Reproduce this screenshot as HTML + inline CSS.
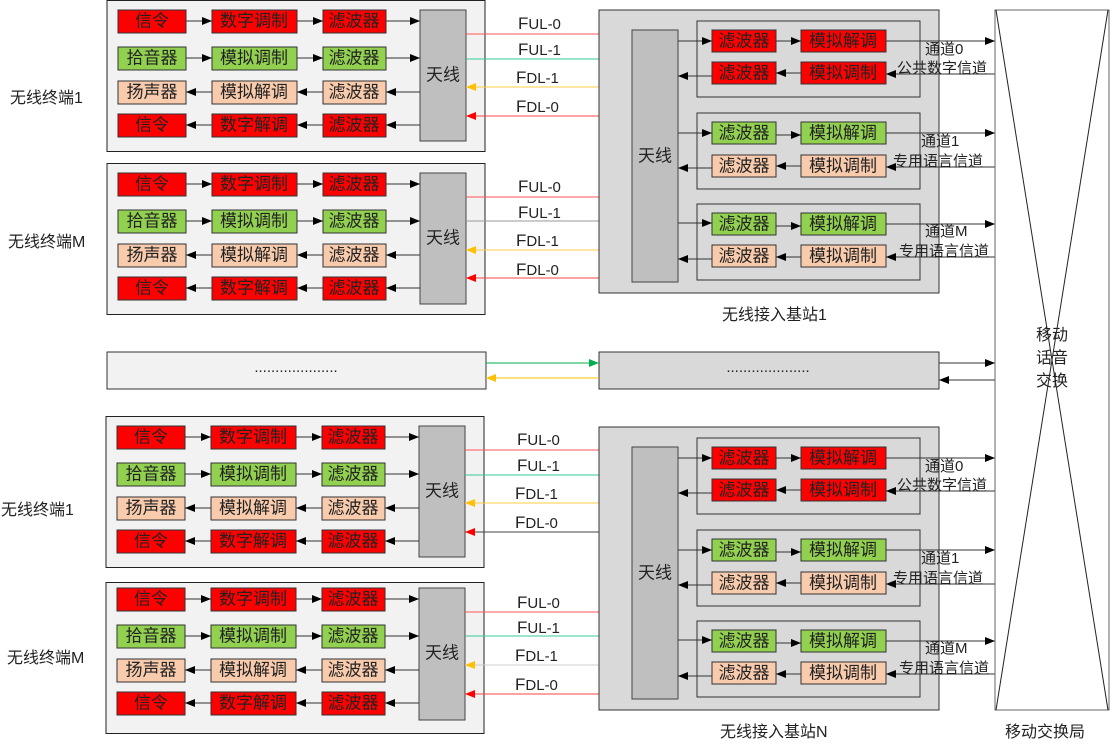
<!DOCTYPE html>
<html><head><meta charset="utf-8"><style>
html,body{margin:0;padding:0;background:#fff;}
svg{display:block;}
text{font-family:"Liberation Sans","Noto Sans CJK SC",sans-serif;}
.b{font-size:17px;fill:#222;text-anchor:middle;dominant-baseline:central;}
.l{font-size:16px;fill:#222;}
.f{font-size:15px;fill:#222;}
</style></head><body>
<svg width="1110" height="744" viewBox="0 0 1110 744" xmlns="http://www.w3.org/2000/svg">
<defs>
<marker id="ak" markerWidth="10" markerHeight="8" refX="10" refY="4" orient="auto" markerUnits="userSpaceOnUse"><path d="M0,0L10,4L0,8z" fill="#000"/></marker>
<marker id="ar" markerWidth="10" markerHeight="8" refX="10" refY="4" orient="auto" markerUnits="userSpaceOnUse"><path d="M0,0L10,4L0,8z" fill="#f00"/></marker>
<marker id="ag" markerWidth="10" markerHeight="8" refX="10" refY="4" orient="auto" markerUnits="userSpaceOnUse"><path d="M0,0L10,4L0,8z" fill="#00b050"/></marker>
<marker id="ay" markerWidth="10" markerHeight="8" refX="10" refY="4" orient="auto" markerUnits="userSpaceOnUse"><path d="M0,0L10,4L0,8z" fill="#ffc000"/></marker>
</defs>

<g transform="translate(0,0)">
<rect x="107" y="0.5" width="378" height="151" fill="#f2f2f2" stroke="#222"/>
<rect x="118" y="10" width="68" height="23" fill="#f00" stroke="#333"/><text class="b" x="152" y="21">信令</text>
<rect x="212" y="10" width="85" height="23" fill="#f00" stroke="#333"/><text class="b" x="254" y="21">数字调制</text>
<rect x="323" y="10" width="63" height="23" fill="#f00" stroke="#333"/><text class="b" x="354" y="21">滤波器</text>
<rect x="118" y="47" width="68" height="23" fill="#92d050" stroke="#333"/><text class="b" x="152" y="58">拾音器</text>
<rect x="212" y="47" width="85" height="23" fill="#92d050" stroke="#333"/><text class="b" x="254" y="58">模拟调制</text>
<rect x="323" y="47" width="63" height="23" fill="#92d050" stroke="#333"/><text class="b" x="354" y="58">滤波器</text>
<rect x="118" y="81" width="68" height="23" fill="#f8cbad" stroke="#333"/><text class="b" x="152" y="92">扬声器</text>
<rect x="212" y="81" width="85" height="23" fill="#f8cbad" stroke="#333"/><text class="b" x="254" y="92">模拟解调</text>
<rect x="323" y="81" width="63" height="23" fill="#f8cbad" stroke="#333"/><text class="b" x="354" y="92">滤波器</text>
<rect x="118" y="114" width="68" height="23" fill="#f00" stroke="#333"/><text class="b" x="152" y="125">信令</text>
<rect x="212" y="114" width="85" height="23" fill="#f00" stroke="#333"/><text class="b" x="254" y="125">数字解调</text>
<rect x="323" y="114" width="63" height="23" fill="#f00" stroke="#333"/><text class="b" x="354" y="125">滤波器</text>
<rect x="420" y="10" width="46" height="131" fill="#bfbfbf" stroke="#444"/><text class="b" x="443" y="75">天线</text>
<g stroke="#333" marker-end="url(#ak)">
<line x1="186" y1="21" x2="212" y2="21"/><line x1="297" y1="21" x2="323" y2="21"/><line x1="386" y1="21" x2="420" y2="21"/>
<line x1="186" y1="58" x2="212" y2="58"/><line x1="297" y1="58" x2="323" y2="58"/><line x1="386" y1="58" x2="420" y2="58"/>
<line x1="212" y1="92" x2="186" y2="92"/><line x1="323" y1="92" x2="297" y2="92"/><line x1="420" y1="92" x2="386" y2="92"/>
<line x1="212" y1="125" x2="186" y2="125"/><line x1="323" y1="125" x2="297" y2="125"/><line x1="420" y1="125" x2="386" y2="125"/>
</g>
<line x1="466" y1="34" x2="632" y2="34" stroke="#f55" marker-end="url(#ar)"/>
<line x1="466" y1="59" x2="632" y2="59" stroke="#3c9" marker-end="url(#ag)"/>
<line x1="632" y1="87" x2="466" y2="87" stroke="#fc4" marker-end="url(#ay)"/>
<line x1="632" y1="116" x2="466" y2="116" stroke="#f44" marker-end="url(#ar)"/>
<text class="f" x="518" y="29"><tspan font-size="17">F</tspan>UL-0</text>
<text class="f" x="518" y="55"><tspan font-size="17">F</tspan>UL-1</text>
<text class="f" x="516" y="83"><tspan font-size="17">F</tspan>DL-1</text>
<text class="f" x="516" y="112"><tspan font-size="17">F</tspan>DL-0</text>
</g>

<g transform="translate(0,163)">
<rect x="107" y="0.5" width="378" height="151" fill="#f2f2f2" stroke="#222"/>
<rect x="118" y="10" width="68" height="23" fill="#f00" stroke="#333"/><text class="b" x="152" y="21">信令</text>
<rect x="212" y="10" width="85" height="23" fill="#f00" stroke="#333"/><text class="b" x="254" y="21">数字调制</text>
<rect x="323" y="10" width="63" height="23" fill="#f00" stroke="#333"/><text class="b" x="354" y="21">滤波器</text>
<rect x="118" y="47" width="68" height="23" fill="#92d050" stroke="#333"/><text class="b" x="152" y="58">拾音器</text>
<rect x="212" y="47" width="85" height="23" fill="#92d050" stroke="#333"/><text class="b" x="254" y="58">模拟调制</text>
<rect x="323" y="47" width="63" height="23" fill="#92d050" stroke="#333"/><text class="b" x="354" y="58">滤波器</text>
<rect x="118" y="81" width="68" height="23" fill="#f8cbad" stroke="#333"/><text class="b" x="152" y="92">扬声器</text>
<rect x="212" y="81" width="85" height="23" fill="#f8cbad" stroke="#333"/><text class="b" x="254" y="92">模拟解调</text>
<rect x="323" y="81" width="63" height="23" fill="#f8cbad" stroke="#333"/><text class="b" x="354" y="92">滤波器</text>
<rect x="118" y="114" width="68" height="23" fill="#f00" stroke="#333"/><text class="b" x="152" y="125">信令</text>
<rect x="212" y="114" width="85" height="23" fill="#f00" stroke="#333"/><text class="b" x="254" y="125">数字解调</text>
<rect x="323" y="114" width="63" height="23" fill="#f00" stroke="#333"/><text class="b" x="354" y="125">滤波器</text>
<rect x="420" y="10" width="46" height="131" fill="#bfbfbf" stroke="#444"/><text class="b" x="443" y="75">天线</text>
<g stroke="#333" marker-end="url(#ak)">
<line x1="186" y1="21" x2="212" y2="21"/><line x1="297" y1="21" x2="323" y2="21"/><line x1="386" y1="21" x2="420" y2="21"/>
<line x1="186" y1="58" x2="212" y2="58"/><line x1="297" y1="58" x2="323" y2="58"/><line x1="386" y1="58" x2="420" y2="58"/>
<line x1="212" y1="92" x2="186" y2="92"/><line x1="323" y1="92" x2="297" y2="92"/><line x1="420" y1="92" x2="386" y2="92"/>
<line x1="212" y1="125" x2="186" y2="125"/><line x1="323" y1="125" x2="297" y2="125"/><line x1="420" y1="125" x2="386" y2="125"/>
</g>
<line x1="466" y1="34" x2="632" y2="34" stroke="#f55" marker-end="url(#ar)"/>
<line x1="466" y1="58" x2="632" y2="58" stroke="#999" marker-end="url(#ag)"/>
<line x1="632" y1="87" x2="466" y2="87" stroke="#fc4" marker-end="url(#ay)"/>
<line x1="632" y1="115" x2="466" y2="115" stroke="#f44" marker-end="url(#ar)"/>
<text class="f" x="518" y="29"><tspan font-size="17">F</tspan>UL-0</text>
<text class="f" x="518" y="55"><tspan font-size="17">F</tspan>UL-1</text>
<text class="f" x="516" y="83"><tspan font-size="17">F</tspan>DL-1</text>
<text class="f" x="516" y="112"><tspan font-size="17">F</tspan>DL-0</text>
</g>

<g transform="translate(-1,416)">
<rect x="107" y="0.5" width="378" height="151" fill="#f2f2f2" stroke="#222"/>
<rect x="118" y="10" width="68" height="23" fill="#f00" stroke="#333"/><text class="b" x="152" y="21">信令</text>
<rect x="212" y="10" width="85" height="23" fill="#f00" stroke="#333"/><text class="b" x="254" y="21">数字调制</text>
<rect x="323" y="10" width="63" height="23" fill="#f00" stroke="#333"/><text class="b" x="354" y="21">滤波器</text>
<rect x="118" y="47" width="68" height="23" fill="#92d050" stroke="#333"/><text class="b" x="152" y="58">拾音器</text>
<rect x="212" y="47" width="85" height="23" fill="#92d050" stroke="#333"/><text class="b" x="254" y="58">模拟调制</text>
<rect x="323" y="47" width="63" height="23" fill="#92d050" stroke="#333"/><text class="b" x="354" y="58">滤波器</text>
<rect x="118" y="81" width="68" height="23" fill="#f8cbad" stroke="#333"/><text class="b" x="152" y="92">扬声器</text>
<rect x="212" y="81" width="85" height="23" fill="#f8cbad" stroke="#333"/><text class="b" x="254" y="92">模拟解调</text>
<rect x="323" y="81" width="63" height="23" fill="#f8cbad" stroke="#333"/><text class="b" x="354" y="92">滤波器</text>
<rect x="118" y="114" width="68" height="23" fill="#f00" stroke="#333"/><text class="b" x="152" y="125">信令</text>
<rect x="212" y="114" width="85" height="23" fill="#f00" stroke="#333"/><text class="b" x="254" y="125">数字解调</text>
<rect x="323" y="114" width="63" height="23" fill="#f00" stroke="#333"/><text class="b" x="354" y="125">滤波器</text>
<rect x="420" y="10" width="46" height="131" fill="#bfbfbf" stroke="#444"/><text class="b" x="443" y="75">天线</text>
<g stroke="#333" marker-end="url(#ak)">
<line x1="186" y1="21" x2="212" y2="21"/><line x1="297" y1="21" x2="323" y2="21"/><line x1="386" y1="21" x2="420" y2="21"/>
<line x1="186" y1="58" x2="212" y2="58"/><line x1="297" y1="58" x2="323" y2="58"/><line x1="386" y1="58" x2="420" y2="58"/>
<line x1="212" y1="92" x2="186" y2="92"/><line x1="323" y1="92" x2="297" y2="92"/><line x1="420" y1="92" x2="386" y2="92"/>
<line x1="212" y1="125" x2="186" y2="125"/><line x1="323" y1="125" x2="297" y2="125"/><line x1="420" y1="125" x2="386" y2="125"/>
</g>
<line x1="466" y1="34" x2="633" y2="34" stroke="#f55" marker-end="url(#ar)"/>
<line x1="466" y1="59" x2="633" y2="59" stroke="#3c9" marker-end="url(#ag)"/>
<line x1="633" y1="87" x2="466" y2="87" stroke="#fc4" marker-end="url(#ay)"/>
<line x1="633" y1="116" x2="466" y2="116" stroke="#444" marker-end="url(#ar)"/>
<text class="f" x="518" y="29"><tspan font-size="17">F</tspan>UL-0</text>
<text class="f" x="518" y="55"><tspan font-size="17">F</tspan>UL-1</text>
<text class="f" x="516" y="83"><tspan font-size="17">F</tspan>DL-1</text>
<text class="f" x="516" y="112"><tspan font-size="17">F</tspan>DL-0</text>
</g>

<g transform="translate(-1,582)">
<rect x="107" y="0.5" width="378" height="151" fill="#f2f2f2" stroke="#222"/>
<rect x="118" y="6" width="68" height="23" fill="#f00" stroke="#333"/><text class="b" x="152" y="17">信令</text>
<rect x="212" y="6" width="85" height="23" fill="#f00" stroke="#333"/><text class="b" x="254" y="17">数字调制</text>
<rect x="323" y="6" width="63" height="23" fill="#f00" stroke="#333"/><text class="b" x="354" y="17">滤波器</text>
<rect x="118" y="43" width="68" height="23" fill="#92d050" stroke="#333"/><text class="b" x="152" y="54">拾音器</text>
<rect x="212" y="43" width="85" height="23" fill="#92d050" stroke="#333"/><text class="b" x="254" y="54">模拟调制</text>
<rect x="323" y="43" width="63" height="23" fill="#92d050" stroke="#333"/><text class="b" x="354" y="54">滤波器</text>
<rect x="118" y="77" width="68" height="23" fill="#f8cbad" stroke="#333"/><text class="b" x="152" y="88">扬声器</text>
<rect x="212" y="77" width="85" height="23" fill="#f8cbad" stroke="#333"/><text class="b" x="254" y="88">模拟解调</text>
<rect x="323" y="77" width="63" height="23" fill="#f8cbad" stroke="#333"/><text class="b" x="354" y="88">滤波器</text>
<rect x="118" y="110" width="68" height="23" fill="#f00" stroke="#333"/><text class="b" x="152" y="121">信令</text>
<rect x="212" y="110" width="85" height="23" fill="#f00" stroke="#333"/><text class="b" x="254" y="121">数字解调</text>
<rect x="323" y="110" width="63" height="23" fill="#f00" stroke="#333"/><text class="b" x="354" y="121">滤波器</text>
<rect x="420" y="6" width="46" height="132" fill="#bfbfbf" stroke="#444"/><text class="b" x="443" y="71">天线</text>
<g stroke="#333" marker-end="url(#ak)">
<line x1="186" y1="17" x2="212" y2="17"/><line x1="297" y1="17" x2="323" y2="17"/><line x1="386" y1="17" x2="420" y2="17"/>
<line x1="186" y1="54" x2="212" y2="54"/><line x1="297" y1="54" x2="323" y2="54"/><line x1="386" y1="54" x2="420" y2="54"/>
<line x1="212" y1="88" x2="186" y2="88"/><line x1="323" y1="88" x2="297" y2="88"/><line x1="420" y1="88" x2="386" y2="88"/>
<line x1="212" y1="121" x2="186" y2="121"/><line x1="323" y1="121" x2="297" y2="121"/><line x1="420" y1="121" x2="386" y2="121"/>
</g>
<line x1="466" y1="30" x2="633" y2="30" stroke="#f55" marker-end="url(#ar)"/>
<line x1="466" y1="54" x2="633" y2="54" stroke="#3c9" marker-end="url(#ag)"/>
<line x1="633" y1="83" x2="466" y2="83" stroke="#ccc" marker-end="url(#ay)"/>
<line x1="633" y1="112" x2="466" y2="112" stroke="#f44" marker-end="url(#ar)"/>
<text class="f" x="518" y="26"><tspan font-size="17">F</tspan>UL-0</text>
<text class="f" x="518" y="51"><tspan font-size="17">F</tspan>UL-1</text>
<text class="f" x="516" y="79"><tspan font-size="17">F</tspan>DL-1</text>
<text class="f" x="516" y="108"><tspan font-size="17">F</tspan>DL-0</text>
</g>

<text class="l" x="10" y="103">无线终端1</text>
<text class="l" x="8" y="247">无线终端M</text>
<text class="l" x="1" y="515">无线终端1</text>
<text class="l" x="7" y="663">无线终端M</text>

<g transform="translate(0,0)">
<rect x="599" y="10" width="340" height="283" fill="#d9d9d9" stroke="#333"/>
<rect x="632" y="30" width="46" height="252" fill="#bfbfbf" stroke="#444"/><text class="b" x="655" y="156">天线</text>
<rect x="697" y="21" width="223" height="76" fill="none" stroke="#333"/>
<rect x="697" y="113" width="223" height="76" fill="none" stroke="#333"/>
<rect x="697" y="204" width="223" height="76" fill="none" stroke="#333"/>
<rect x="712" y="30" width="64" height="22" fill="#f00" stroke="#333"/><text class="b" x="744" y="41">滤波器</text>
<rect x="801" y="30" width="85" height="22" fill="#f00" stroke="#333"/><text class="b" x="843" y="41">模拟解调</text>
<rect x="712" y="62" width="64" height="22" fill="#f00" stroke="#333"/><text class="b" x="744" y="73">滤波器</text>
<rect x="801" y="62" width="85" height="22" fill="#f00" stroke="#333"/><text class="b" x="843" y="73">模拟调制</text>
<rect x="712" y="122" width="64" height="22" fill="#92d050" stroke="#333"/><text class="b" x="744" y="133">滤波器</text>
<rect x="801" y="122" width="85" height="22" fill="#92d050" stroke="#333"/><text class="b" x="843" y="133">模拟解调</text>
<rect x="712" y="155" width="64" height="22" fill="#f8cbad" stroke="#333"/><text class="b" x="744" y="166">滤波器</text>
<rect x="801" y="155" width="85" height="22" fill="#f8cbad" stroke="#333"/><text class="b" x="843" y="166">模拟调制</text>
<rect x="712" y="213" width="64" height="22" fill="#92d050" stroke="#333"/><text class="b" x="744" y="224">滤波器</text>
<rect x="801" y="213" width="85" height="22" fill="#92d050" stroke="#333"/><text class="b" x="843" y="224">模拟解调</text>
<rect x="712" y="245" width="64" height="22" fill="#f8cbad" stroke="#333"/><text class="b" x="744" y="256">滤波器</text>
<rect x="801" y="245" width="85" height="22" fill="#f8cbad" stroke="#333"/><text class="b" x="843" y="256">模拟调制</text>
<g stroke="#333" marker-end="url(#ak)">
<line x1="678" y1="41" x2="712" y2="41"/><line x1="776" y1="41" x2="801" y2="41"/><line x1="886" y1="41" x2="995" y2="41"/>
<line x1="712" y1="76" x2="678" y2="76"/><line x1="801" y1="73" x2="776" y2="73"/><line x1="995" y1="74" x2="886" y2="74"/>
<line x1="678" y1="133" x2="712" y2="133"/><line x1="776" y1="135" x2="801" y2="135"/><line x1="886" y1="133" x2="995" y2="133"/>
<line x1="712" y1="168" x2="678" y2="168"/><line x1="801" y1="166" x2="776" y2="166"/><line x1="995" y1="167" x2="886" y2="167"/>
<line x1="678" y1="223" x2="712" y2="223"/><line x1="776" y1="226" x2="801" y2="226"/><line x1="886" y1="224" x2="995" y2="224"/>
<line x1="712" y1="259" x2="678" y2="259"/><line x1="801" y1="257" x2="776" y2="257"/><line x1="995" y1="257" x2="886" y2="257"/>
</g>
<text class="f" x="925" y="54">通道0</text>
<text class="f" x="897" y="73">公共数字信道</text>
<text class="f" x="921" y="146">通道1</text>
<text class="f" x="893" y="166">专用语言信道</text>
<text class="f" x="925" y="236">通道M</text>
<text class="f" x="899" y="256">专用语言信道</text>
</g>

<g transform="translate(0,417)">
<rect x="599" y="10" width="340" height="283" fill="#d9d9d9" stroke="#333"/>
<rect x="632" y="30" width="46" height="252" fill="#bfbfbf" stroke="#444"/><text class="b" x="655" y="156">天线</text>
<rect x="697" y="21" width="223" height="76" fill="none" stroke="#333"/>
<rect x="697" y="113" width="223" height="76" fill="none" stroke="#333"/>
<rect x="697" y="204" width="223" height="76" fill="none" stroke="#333"/>
<rect x="712" y="30" width="64" height="22" fill="#f00" stroke="#333"/><text class="b" x="744" y="41">滤波器</text>
<rect x="801" y="30" width="85" height="22" fill="#f00" stroke="#333"/><text class="b" x="843" y="41">模拟解调</text>
<rect x="712" y="62" width="64" height="22" fill="#f00" stroke="#333"/><text class="b" x="744" y="73">滤波器</text>
<rect x="801" y="62" width="85" height="22" fill="#f00" stroke="#333"/><text class="b" x="843" y="73">模拟调制</text>
<rect x="712" y="122" width="64" height="22" fill="#92d050" stroke="#333"/><text class="b" x="744" y="133">滤波器</text>
<rect x="801" y="122" width="85" height="22" fill="#92d050" stroke="#333"/><text class="b" x="843" y="133">模拟解调</text>
<rect x="712" y="155" width="64" height="22" fill="#f8cbad" stroke="#333"/><text class="b" x="744" y="166">滤波器</text>
<rect x="801" y="155" width="85" height="22" fill="#f8cbad" stroke="#333"/><text class="b" x="843" y="166">模拟调制</text>
<rect x="712" y="213" width="64" height="22" fill="#92d050" stroke="#333"/><text class="b" x="744" y="224">滤波器</text>
<rect x="801" y="213" width="85" height="22" fill="#92d050" stroke="#333"/><text class="b" x="843" y="224">模拟解调</text>
<rect x="712" y="245" width="64" height="22" fill="#f8cbad" stroke="#333"/><text class="b" x="744" y="256">滤波器</text>
<rect x="801" y="245" width="85" height="22" fill="#f8cbad" stroke="#333"/><text class="b" x="843" y="256">模拟调制</text>
<g stroke="#333" marker-end="url(#ak)">
<line x1="678" y1="41" x2="712" y2="41"/><line x1="776" y1="41" x2="801" y2="41"/><line x1="886" y1="41" x2="995" y2="41"/>
<line x1="712" y1="76" x2="678" y2="76"/><line x1="801" y1="73" x2="776" y2="73"/><line x1="995" y1="74" x2="886" y2="74"/>
<line x1="678" y1="133" x2="712" y2="133"/><line x1="776" y1="135" x2="801" y2="135"/><line x1="886" y1="133" x2="995" y2="133"/>
<line x1="712" y1="168" x2="678" y2="168"/><line x1="801" y1="166" x2="776" y2="166"/><line x1="995" y1="167" x2="886" y2="167"/>
<line x1="678" y1="223" x2="712" y2="223"/><line x1="776" y1="226" x2="801" y2="226"/><line x1="886" y1="224" x2="995" y2="224"/>
<line x1="712" y1="259" x2="678" y2="259"/><line x1="801" y1="257" x2="776" y2="257"/><line x1="995" y1="257" x2="886" y2="257"/>
</g>
<text class="f" x="925" y="54">通道0</text>
<text class="f" x="897" y="73">公共数字信道</text>
<text class="f" x="921" y="146">通道1</text>
<text class="f" x="893" y="166">专用语言信道</text>
<text class="f" x="925" y="236">通道M</text>
<text class="f" x="899" y="256">专用语言信道</text>
</g>

<text class="l" x="722" y="320">无线接入基站1</text>
<text class="l" x="720" y="737">无线接入基站N</text>

<rect x="107" y="352" width="379" height="37" fill="#f2f2f2" stroke="#333"/>
<text class="f" x="296" y="372" text-anchor="middle">....................</text>
<rect x="599" y="352" width="340" height="37" fill="#d9d9d9" stroke="#333"/>
<text class="f" x="768" y="372" text-anchor="middle">....................</text>
<line x1="486" y1="363" x2="599" y2="363" stroke="#00b050" marker-end="url(#ag)"/>
<line x1="599" y1="378" x2="486" y2="378" stroke="#ffc000" marker-end="url(#ay)"/>
<line x1="939" y1="363" x2="995" y2="363" stroke="#333" marker-end="url(#ak)"/>
<line x1="995" y1="380" x2="939" y2="380" stroke="#333" marker-end="url(#ak)"/>

<rect x="995" y="10" width="114" height="700" fill="none" stroke="#666"/>
<line x1="996" y1="10" x2="1108" y2="710" stroke="#222"/>
<line x1="1108" y1="10" x2="996" y2="710" stroke="#222"/>
<text class="l" x="1052" y="340" text-anchor="middle" font-size="17">移动</text>
<text class="l" x="1052" y="363" text-anchor="middle" font-size="17">话音</text>
<text class="l" x="1052" y="386" text-anchor="middle" font-size="17">交换</text>
<text class="l" x="1005" y="737">移动交换局</text>
</svg>
</body></html>
